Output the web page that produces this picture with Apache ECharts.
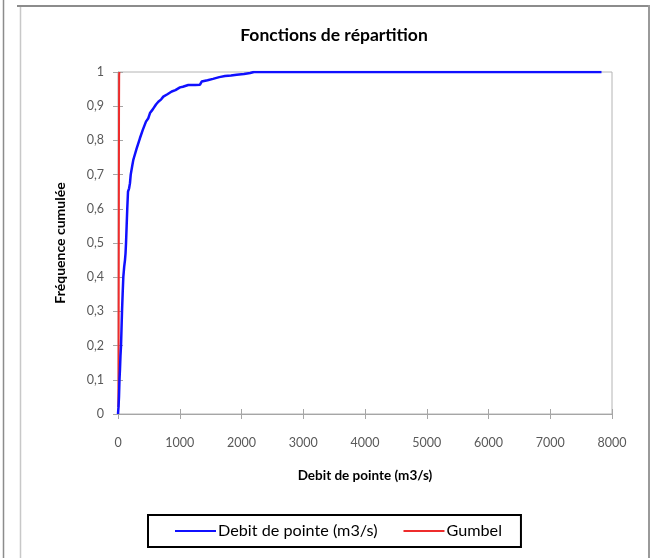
<!DOCTYPE html>
<html>
<head>
<meta charset="utf-8">
<script src="https://cdn.jsdelivr.net/npm/echarts@6/dist/echarts.min.js"></script>
<style>
html,body{margin:0;padding:0;background:#fff;}
#c{width:651px;height:558px;}
</style>
</head>
<body>
<div id="c"></div>
<script>
const debitX = [0, 8, 16, 24, 32, 40, 49, 57, 65, 75, 86, 100, 113, 122, 130, 140, 150, 162, 180, 194, 206, 230, 248, 259, 300, 356, 400, 453, 491, 518, 560, 615, 653, 700, 734, 800, 870, 930, 1004, 1050, 1138, 1250, 1328, 1355, 1450, 1538, 1640, 1733, 1830, 1922, 2040, 2140, 2200, 7830];
const debitF = [0, 0.02, 0.05, 0.1, 0.13, 0.17, 0.2, 0.25, 0.3, 0.35, 0.4, 0.43, 0.45, 0.47, 0.5, 0.55, 0.6, 0.65, 0.66, 0.675, 0.7, 0.725, 0.743, 0.75, 0.775, 0.807, 0.83, 0.855, 0.865, 0.88, 0.89, 0.905, 0.913, 0.92, 0.928, 0.935, 0.943, 0.947, 0.955, 0.957, 0.962, 0.962, 0.963, 0.972, 0.976, 0.98, 0.985, 0.988, 0.99, 0.992, 0.994, 0.997, 1, 1];
// Fitted Gumbel distribution (nearly vertical near zero)
const gumbelX = [6, 9, 11, 13, 15, 17, 19, 22];
const gumbelF = [0.02, 0.1, 0.3, 0.5, 0.7, 0.9, 0.99, 1];

const xTicks = [0, 1000, 2000, 3000, 4000, 5000, 6000, 7000, 8000];
const yTicks = [0, 0.1, 0.2, 0.3, 0.4, 0.5, 0.6, 0.7, 0.8, 0.9, 1];

const seriesNames = ['Debit de pointe (m3/s)', 'Gumbel'];
const chartTitle = 'Fonctions de répartition';
const xName = 'Debit de pointe (m3/s)';
const yName = 'Fréquence cumulée';

const FONT = 'Lato, "Open Sans", sans-serif';
const zip = (a, b) => a.map((v, i) => [v, b[i]]);
const fmtY = v => String(+(+v).toFixed(1)).replace('.', ',');

const chart = echarts.init(document.getElementById('c'), null, {renderer: 'canvas'});

const axisGray = '#a6a6a6';
const labelGray = '#595959';

chart.setOption({
  animation: false,
  backgroundColor: '#ffffff',
  textStyle: {fontFamily: FONT},
  graphic: [
    {type: 'line', shape: {x1: 3.5, y1: 0, x2: 3.5, y2: 558}, style: {stroke: '#8c8c8c', lineWidth: 1.5}, silent: true},
    {type: 'line', shape: {x1: 20.5, y1: 5, x2: 20.5, y2: 558}, style: {stroke: '#c8c8c8', lineWidth: 1.5}, silent: true},
    {type: 'line', shape: {x1: 17, y1: 6, x2: 650, y2: 6}, style: {stroke: '#8c8c8c', lineWidth: 2}, silent: true},
    {type: 'line', shape: {x1: 649, y1: 5, x2: 649, y2: 558}, style: {stroke: '#9a9a9a', lineWidth: 2}, silent: true},
    {type: 'text', x: 334, y: 35, silent: true,
      style: {text: chartTitle, fontFamily: FONT, fontSize: 17.5, fontWeight: 'bold', fill: '#000',
        textAlign: 'center', textVerticalAlign: 'middle', align: 'center', verticalAlign: 'middle'}}
  ],
  legend: {
    data: seriesNames,
    left: 148,
    top: 515,
    orient: 'horizontal',
    icon: 'rect',
    itemWidth: 41,
    itemHeight: 2,
    itemGap: 26,
    padding: [8, 19, 8, 27],
    borderColor: '#000',
    borderWidth: 2,
    textStyle: {fontFamily: FONT, fontSize: 16.2, color: '#000', padding: [0, 0, 0, -3]}
  },
  grid: {
    left: 118, right: 39, top: 72, bottom: 144,
    show: true, borderColor: '#b4b4b4', borderWidth: 1, backgroundColor: 'transparent'
  },
  xAxis: [{
    type: 'value', min: 0, max: 8000, interval: 1000,
    name: xName, nameLocation: 'middle', nameGap: 55,
    nameTextStyle: {fontFamily: FONT, fontSize: 13.5, fontWeight: 'bold', color: '#000'},
    axisLine: {show: true, onZero: false, lineStyle: {color: axisGray, width: 1}},
    axisTick: {show: true, inside: false, length: 5, lineStyle: {color: axisGray}},
    axisLabel: {margin: 22, fontFamily: FONT, fontSize: 12.5, color: labelGray,
      showMinLabel: true, showMaxLabel: true,
      formatter: v => (xTicks.indexOf(v) >= 0 ? String(v) : '')},
    splitLine: {show: false}
  }, {
    type: 'value', min: 0, max: 8000, interval: 1000, position: 'bottom',
    axisLine: {show: false},
    axisTick: {show: true, inside: true, length: 5, lineStyle: {color: axisGray}},
    axisLabel: {show: false}, splitLine: {show: false}
  }],
  yAxis: [{
    type: 'value', min: 0, max: 1, interval: 0.1,
    name: yName, nameLocation: 'middle', nameGap: 51, nameRotate: 90,
    nameTextStyle: {fontFamily: FONT, fontSize: 14, fontWeight: 'bold', color: '#000'},
    axisLine: {show: true, onZero: false, lineStyle: {color: axisGray, width: 1}},
    axisTick: {show: true, inside: false, length: 5, lineStyle: {color: axisGray}},
    axisLabel: {margin: 14, fontFamily: FONT, fontSize: 12.5, color: labelGray,
      formatter: v => fmtY(v)},
    splitLine: {show: false}
  }, {
    type: 'value', min: 0, max: 1, interval: 0.1, position: 'left',
    axisLine: {show: false},
    axisTick: {show: true, inside: true, length: 5, lineStyle: {color: axisGray}},
    axisLabel: {show: false}, splitLine: {show: false}
  }],
  series: [{
    name: seriesNames[0],
    type: 'line',
    xAxisIndex: 0, yAxisIndex: 0,
    data: zip(debitX, debitF),
    symbol: 'none',
    showSymbol: false,
    lineStyle: {color: '#1010ff', width: 2.5},
    itemStyle: {color: '#1010ff'},
    z: 3
  }, {
    name: seriesNames[1],
    type: 'line',
    xAxisIndex: 0, yAxisIndex: 0,
    data: zip(gumbelX, gumbelF),
    symbol: 'none',
    showSymbol: false,
    lineStyle: {color: '#ee2c2c', width: 2},
    itemStyle: {color: '#ee2c2c'},
    z: 2
  }]
});
</script>
</body>
</html>
